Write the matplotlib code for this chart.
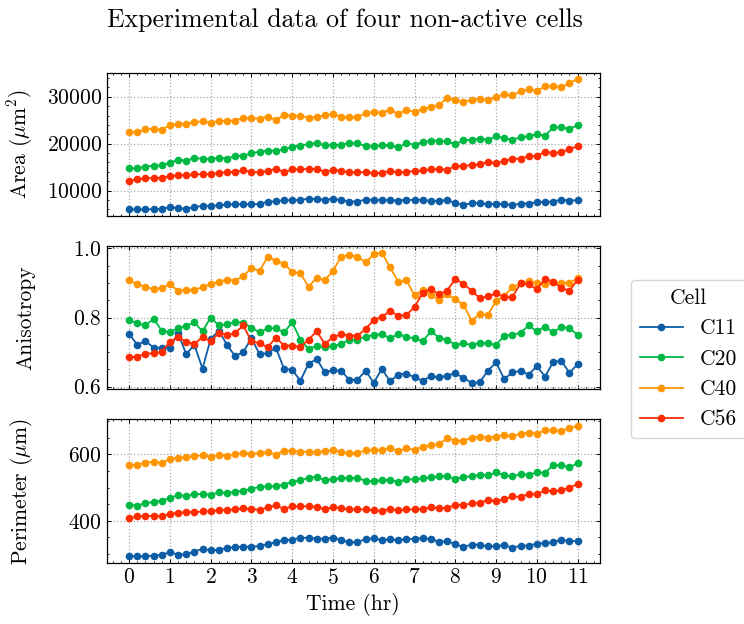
import matplotlib
matplotlib.use("Agg")
import matplotlib.pyplot as plt
import numpy as np
from matplotlib.ticker import AutoMinorLocator

# time samples every 12 min, 0..11 hr
time_hr = np.round(np.arange(56) * 0.2, 1)

cells = ["C11", "C20", "C40", "C56"]
colors = ["#0C5DA5", "#00B945", "#FF9500", "#FF2C00"]

area_c11 = [5990, 5990, 5990, 6060, 6130, 6480, 6270, 6130, 6480, 6770, 6770, 6840, 7050, 7050,
            7120, 7050, 7190, 7610, 7750, 7960, 7960, 8030, 8310, 8170, 8100, 8240, 8030, 7680,
            7680, 8100, 8030, 7960, 7960, 7890, 8100, 7960, 8100, 7750, 7890, 7960, 7400, 6980,
            7330, 7330, 7120, 7190, 7190, 6910, 7260, 7260, 7540, 7610, 7680, 8100, 7890, 7960]
area_c20 = [14720, 14720, 15140, 15280, 15420, 15920, 16550, 16410, 16900, 16830, 16690, 17040,
            16830, 17400, 17470, 17960, 18310, 18520, 18520, 18800, 19370, 19580, 19930, 20140,
            19650, 19650, 19790, 20140, 20140, 19440, 19440, 19720, 19650, 19230, 20070, 19790,
            20350, 20630, 20630, 20490, 19860, 20700, 20850, 21060, 20850, 21550, 21200, 20770,
            21410, 21550, 22040, 21690, 23450, 23450, 23170, 23940]
area_c40 = [22390, 22460, 23030, 23170, 22960, 23940, 24220, 24290, 24580, 24790, 24440, 24860,
            24860, 24930, 25490, 25420, 25350, 25770, 25000, 26130, 25980, 25910, 25560, 25630,
            26050, 26340, 25700, 25630, 25700, 26480, 26760, 26620, 27250, 26340, 27250, 26760,
            27390, 27810, 28170, 29790, 29290, 28870, 29360, 29500, 29360, 29930, 30490, 30280,
            31190, 31550, 31190, 32250, 32320, 31970, 32950, 33730]
area_c56 = [12050, 12470, 12610, 12750, 12680, 13100, 13240, 13310, 13450, 13520, 13520, 13810,
            13880, 14020, 14300, 14020, 13880, 14230, 14650, 13950, 14510, 14510, 14650, 14580,
            14020, 14440, 14230, 13880, 13880, 13950, 13730, 13810, 14230, 13880, 14020, 14160,
            14300, 14580, 14580, 14440, 15210, 15210, 15490, 15570, 16200, 15780, 16270, 16830,
            16760, 17400, 17400, 18310, 17960, 18240, 18800, 19510]

aniso_c11 = [0.753, 0.721, 0.732, 0.713, 0.712, 0.712, 0.755, 0.694, 0.721, 0.652, 0.738, 0.762,
             0.721, 0.688, 0.700, 0.740, 0.694, 0.697, 0.713, 0.651, 0.649, 0.617, 0.666, 0.680,
             0.642, 0.647, 0.646, 0.620, 0.620, 0.646, 0.611, 0.652, 0.615, 0.635, 0.638, 0.627,
             0.617, 0.630, 0.627, 0.632, 0.639, 0.625, 0.611, 0.613, 0.646, 0.670, 0.622, 0.641,
             0.646, 0.635, 0.659, 0.629, 0.671, 0.675, 0.640, 0.665]
aniso_c20 = [0.793, 0.783, 0.777, 0.796, 0.762, 0.758, 0.769, 0.776, 0.786, 0.760, 0.800, 0.777,
             0.781, 0.787, 0.785, 0.771, 0.757, 0.769, 0.769, 0.757, 0.786, 0.736, 0.709, 0.718,
             0.714, 0.718, 0.723, 0.736, 0.736, 0.745, 0.750, 0.752, 0.740, 0.752, 0.744, 0.740,
             0.731, 0.760, 0.742, 0.736, 0.721, 0.725, 0.721, 0.726, 0.725, 0.721, 0.747, 0.750,
             0.756, 0.777, 0.760, 0.774, 0.757, 0.773, 0.769, 0.750]
aniso_c40 = [0.908, 0.896, 0.889, 0.882, 0.885, 0.896, 0.878, 0.880, 0.880, 0.888, 0.897, 0.904,
             0.910, 0.907, 0.920, 0.943, 0.935, 0.976, 0.964, 0.956, 0.932, 0.928, 0.889, 0.915,
             0.908, 0.935, 0.976, 0.981, 0.976, 0.960, 0.983, 0.988, 0.945, 0.904, 0.908, 0.865,
             0.880, 0.865, 0.851, 0.867, 0.853, 0.837, 0.791, 0.810, 0.808, 0.848, 0.863, 0.887,
             0.899, 0.906, 0.899, 0.896, 0.902, 0.900, 0.899, 0.915]
aniso_c56 = [0.685, 0.687, 0.695, 0.697, 0.701, 0.729, 0.744, 0.730, 0.723, 0.744, 0.731, 0.755,
             0.750, 0.755, 0.777, 0.731, 0.726, 0.714, 0.742, 0.719, 0.719, 0.715, 0.736, 0.760,
             0.724, 0.743, 0.752, 0.748, 0.747, 0.767, 0.793, 0.802, 0.819, 0.805, 0.808, 0.830,
             0.872, 0.882, 0.867, 0.878, 0.912, 0.897, 0.878, 0.856, 0.861, 0.870, 0.859, 0.859,
             0.899, 0.896, 0.882, 0.912, 0.904, 0.885, 0.878, 0.909]

perim_c11 = [293.5, 293.5, 293.5, 295.5, 297.5, 305.5, 298.5, 299.5, 307.5, 315.4, 311.4, 312.4,
             319.4, 320.4, 322.4, 321.4, 324.4, 329.4, 336.3, 341.3, 343.3, 348.3, 349.3, 346.3,
             346.3, 349.3, 342.3, 335.3, 335.3, 345.3, 347.3, 341.3, 344.3, 341.3, 346.3, 345.3,
             348.3, 345.3, 336.3, 339.3, 329.4, 321.4, 328.4, 328.4, 323.4, 323.4, 327.4, 318.4,
             325.4, 325.4, 331.3, 333.3, 335.3, 343.3, 338.3, 340.3]
perim_c20 = [448.8, 445.8, 452.7, 456.7, 460.7, 468.7, 476.6, 474.6, 479.6, 480.6, 478.6, 485.6,
             483.6, 487.6, 490.5, 496.5, 501.5, 503.5, 503.5, 508.5, 517.4, 521.4, 529.4, 532.3,
             522.4, 525.4, 527.4, 528.4, 528.4, 520.4, 518.4, 523.4, 522.4, 517.4, 524.4, 524.4,
             527.4, 530.3, 533.3, 533.3, 525.4, 532.3, 533.3, 538.3, 536.3, 545.3, 537.3, 533.3,
             540.3, 538.3, 545.3, 544.3, 567.2, 567.2, 560.2, 573.1]
perim_c40 = [567, 568, 575, 577, 575, 585, 590, 591, 594, 597, 592, 598, 596, 600, 604, 602, 603,
             606, 599, 611, 610, 608, 607, 608, 609, 613, 606, 603, 603, 612, 612, 613, 620, 609,
             618, 613, 623, 627, 630, 648, 641, 640, 650, 653, 650, 653, 658, 654, 662, 665, 662,
             672, 673, 669, 680, 685]
perim_c56 = [407, 413, 414, 415, 414, 420, 424, 426, 426, 428, 428, 432, 433, 434, 438, 435, 433,
             440, 446, 436, 443, 443, 444, 441, 435, 441, 437, 434, 434, 434, 431, 430, 435, 431,
             434, 434, 436, 440, 439, 438, 448, 448, 452, 453, 463, 459, 465, 473, 472, 481, 479,
             492, 488, 492, 500, 510]

area = [area_c11, area_c20, area_c40, area_c56]
aniso = [aniso_c11, aniso_c20, aniso_c40, aniso_c56]
perim = [perim_c11, perim_c20, perim_c40, perim_c56]

plt.rcParams.update({
    "font.family": "serif",
    "font.serif": ["cmr10"],
    "mathtext.fontset": "cm",
    "axes.formatter.use_mathtext": True,
    "font.size": 15.5,
    "axes.linewidth": 0.9,
    "xtick.direction": "in",
    "ytick.direction": "in",
    "xtick.top": True,
    "ytick.right": True,
    "xtick.major.size": 3.0,
    "ytick.major.size": 3.0,
    "xtick.minor.size": 1.5,
    "ytick.minor.size": 1.5,
    "xtick.major.width": 0.7,
    "ytick.major.width": 0.7,
    "xtick.minor.width": 0.6,
    "ytick.minor.width": 0.6,
})

fig, axs = plt.subplots(3, 1, figsize=(7.44, 6.24), dpi=100, sharex=True)
fig.subplots_adjust(left=0.1434, right=0.8065, top=0.8835, bottom=0.0982, hspace=0.21)

panels = [(area, r"Area ($\mu$m$^2$)"), (aniso, "Anisotropy"), (perim, r"Perimeter ($\mu$m)")]
for ax, (series, ylabel) in zip(axs, panels):
    for vals, name, col in zip(series, cells, colors):
        ax.plot(time_hr, vals, "-o", color=col, lw=1.3, ms=4.5, label=name)
    ax.set_ylabel(ylabel)
    ax.yaxis.set_label_coords(-0.145, 0.5)
    ax.grid(True, color="#aaaaaa", linestyle=":", linewidth=0.9)
    ax.xaxis.set_minor_locator(AutoMinorLocator())
    ax.yaxis.set_minor_locator(AutoMinorLocator())

axs[0].set_yticks([10000, 20000, 30000])
axs[1].set_yticks([0.6, 0.8, 1.0])
axs[2].set_yticks([400, 600])
axs[2].set_xticks(range(12))
axs[2].set_xlabel("Time (hr)")

handles, labels = axs[0].get_legend_handles_labels()
fig.legend(handles, labels, title="Cell", loc="center left",
           bbox_to_anchor=(631 / 744, 1 - 359 / 624), borderaxespad=0)

fig.text(0.464, 0.968, "Experimental data of four non-active cells",
         ha="center", va="center", fontsize=18.6)

fig.savefig("out.png", dpi=100)
